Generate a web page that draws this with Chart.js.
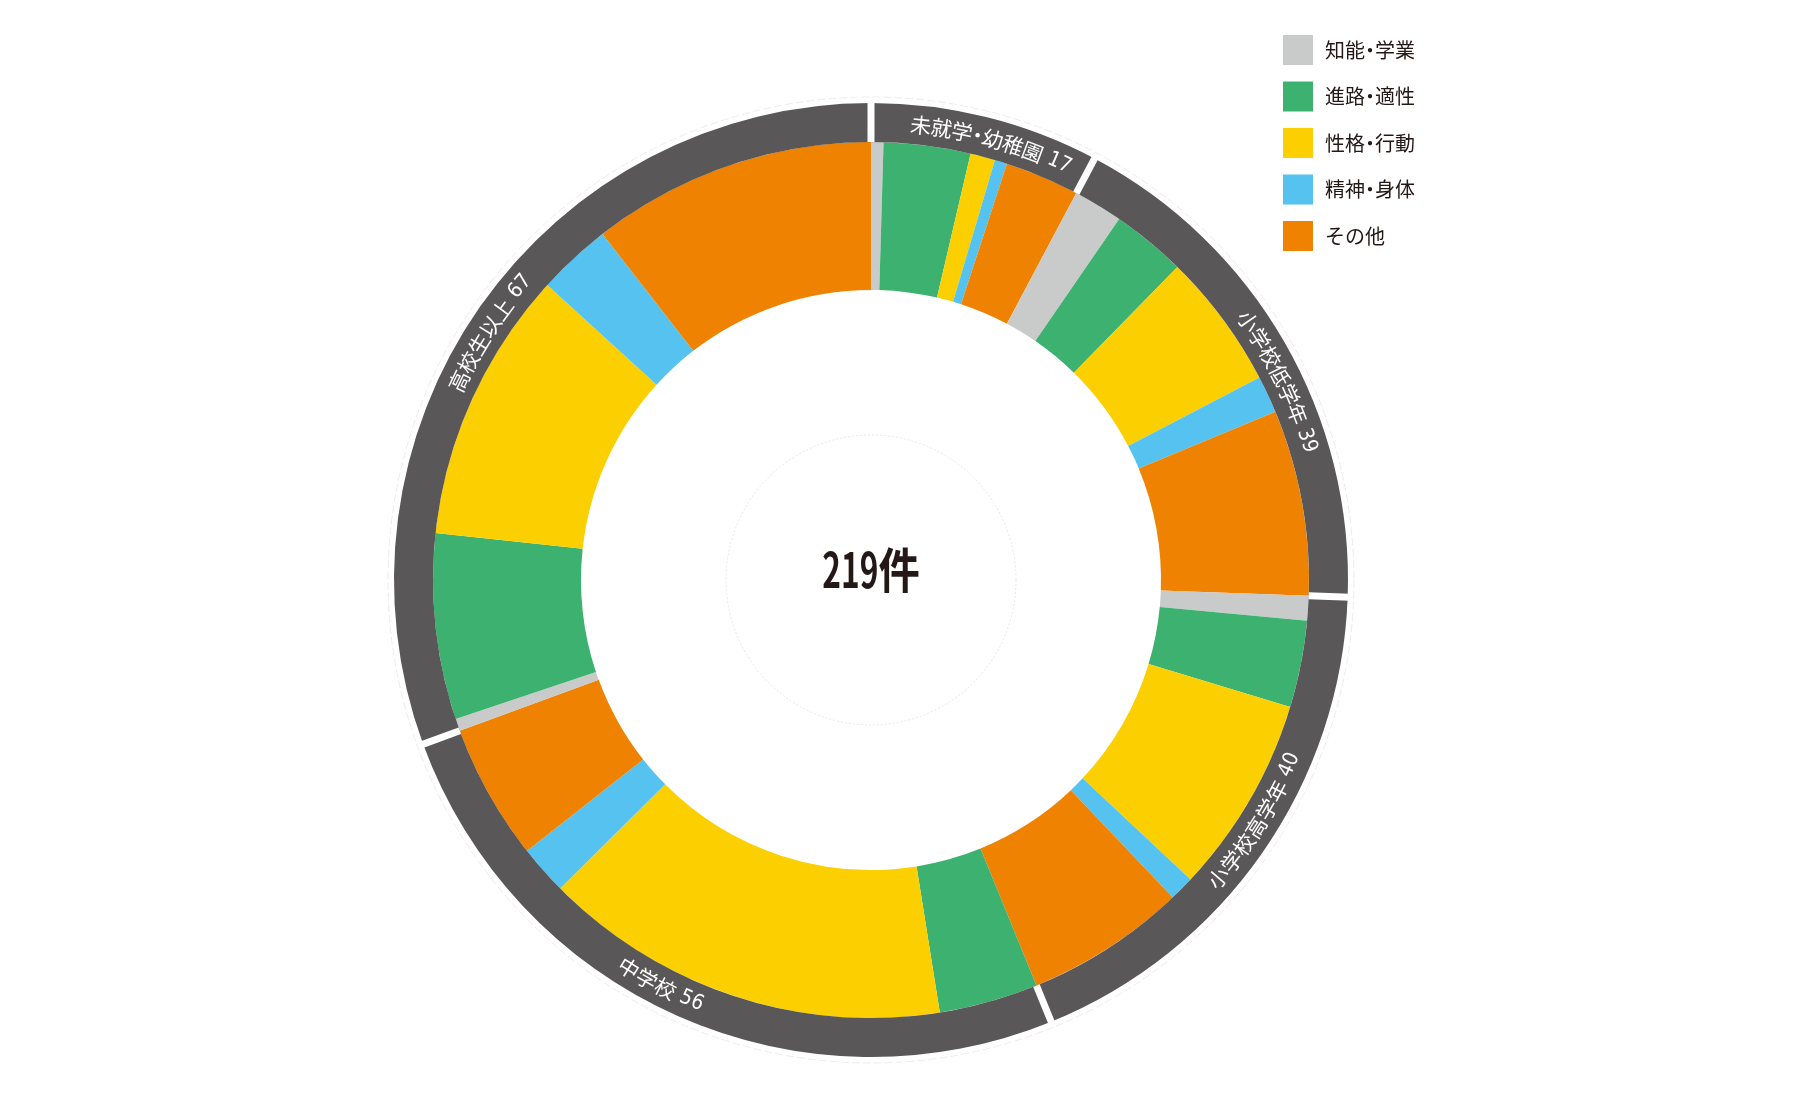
<!DOCTYPE html>
<html lang="ja">
<head>
<meta charset="utf-8">
<title>相談内容の内訳</title>
<script src="https://cdn.jsdelivr.net/npm/chart.js@4.4.0/dist/chart.umd.min.js"></script>
<style>
  html, body { margin: 0; padding: 0; background: #fff; }
  #wrap { width: 1800px; height: 1100px; }
</style>
</head>
<body>
<div id="wrap"><canvas id="consultChart" width="1800" height="1100"></canvas></div>
<script>
// outer ring: age groups
var groups = ['未就学・幼稚園', '小学校低学年', '小学校高学年', '中学校', '高校生以上'];

// inner ring / legend: kind of consultation
var categories = ['知能・学業', '進路・適性', '性格・行動', '精神・身体', 'その他'];

// counts for each category, one value per age group (same order as groups)
var chinouGakugyou = [1, 4, 2, 0, 1];
var shinroTekisei = [7, 6, 7, 8, 15];
var seikakuKoudou = [2, 11, 16, 33, 22];
var seishinShintai = [1, 3, 2, 4, 6];
var sonota = [6, 15, 13, 11, 23];

var unitLabel = '件';

var categoryColors = ['#c9caca', '#3cb170', '#fcd000', '#56c2f0', '#ef8200'];
var groupColor = '#595757';
// small nudge (degrees, clockwise) of each curved group label
var labelShift = [1.4, 4, -2.8, 3.6, -2];

document.addEventListener("DOMContentLoaded", function() {

var series = [chinouGakugyou, shinroTekisei, seikakuKoudou, seishinShintai, sonota];

// group totals (outer ring) and the flat inner ring data
var groupTotals = groups.map(function(g, gi) {
    return series.reduce(function(s, arr) { return s + arr[gi]; }, 0);
});
var innerData = [];
var innerColors = [];
groups.forEach(function(g, gi) {
    series.forEach(function(arr, ci) {
        innerData.push(arr[gi]);
        innerColors.push(categoryColors[ci]);
    });
});
var grandTotal = groupTotals.reduce(function(a, b) { return a + b; }, 0);

var JP_FONT = '"Noto Sans CJK JP", "Noto Sans", sans-serif';
var NUM_FONT = '"Liberation Sans Narrow", "DejaVu Sans Condensed", sans-serif';

// font and advance for one character (narrow digits, half-width middle dot)
function charFont(ch, size) {
    return /[0-9]/.test(ch) ? size + 'px ' + NUM_FONT : size + 'px ' + JP_FONT;
}
function charWidth(ctx, ch, size) {
    ctx.font = charFont(ch, size);
    var w = ctx.measureText(ch).width;
    if (ch === '・') w = w * 0.5;
    if (ch === ' ') w = size * 0.3;
    return w;
}

// write a string along a circle, centred on midAngle
function drawArcText(ctx, text, cx, cy, r, midAngle, size) {
    var flip = Math.sin(midAngle) > 0; // lower half reads the other way
    var chars = Array.from(text);
    var widths = chars.map(function(ch) { return charWidth(ctx, ch, size); });
    var total = widths.reduce(function(a, b) { return a + b; }, 0);
    var a = flip ? midAngle + total / (2 * r) : midAngle - total / (2 * r);
    chars.forEach(function(ch, i) {
        var w = widths[i];
        var ca = flip ? a - w / (2 * r) : a + w / (2 * r);
        ctx.save();
        ctx.font = charFont(ch, size);
        ctx.translate(cx + r * Math.cos(ca), cy + r * Math.sin(ca));
        ctx.rotate(flip ? ca - Math.PI / 2 : ca + Math.PI / 2);
        ctx.fillText(ch, 0, 0);
        ctx.restore();
        a = flip ? a - w / r : a + w / r;
    });
}

// straight text, char by char so the middle dot stays narrow
function drawPlainText(ctx, text, x, y, size) {
    Array.from(text).forEach(function(ch) {
        var w = charWidth(ctx, ch, size);
        ctx.font = charFont(ch, size);
        ctx.textAlign = 'center';
        ctx.fillText(ch, x + w / 2, y);
        x += w;
    });
}

var ringDecor = {
    id: 'ringDecor',
    beforeDatasetsDraw: function(chart) {
        var ctx = chart.ctx;
        var arc = chart.getDatasetMeta(0).data[0];
        var inner = chart.getDatasetMeta(1).data[0];
        if (!arc) return;
        var p = arc.getProps(['x', 'y', 'outerRadius']);
        var q = inner.getProps(['innerRadius']);
        ctx.save();
        // faint circle outside the ring
        ctx.strokeStyle = '#ececec';
        ctx.lineWidth = 1;
        ctx.setLineDash([8, 3]);
        ctx.beginPath();
        ctx.arc(p.x, p.y, p.outerRadius + 6, 0, Math.PI * 2);
        ctx.stroke();
        // faint dotted circle in the hole
        ctx.strokeStyle = '#e6e6e6';
        ctx.setLineDash([2, 2]);
        ctx.beginPath();
        ctx.arc(p.x, p.y, q.innerRadius * 0.5, 0, Math.PI * 2);
        ctx.stroke();
        ctx.restore();
    },
    afterDatasetsDraw: function(chart) {
        var ctx = chart.ctx;
        var meta = chart.getDatasetMeta(0);
        meta.data.forEach(function(arc, i) {
            var p = arc.getProps(['x', 'y', 'startAngle', 'endAngle', 'innerRadius', 'outerRadius']);
            // white gap at the start of each group
            ctx.save();
            ctx.strokeStyle = '#ffffff';
            ctx.lineWidth = 7;
            ctx.beginPath();
            ctx.moveTo(p.x + Math.cos(p.startAngle) * p.innerRadius, p.y + Math.sin(p.startAngle) * p.innerRadius);
            ctx.lineTo(p.x + Math.cos(p.startAngle) * (p.outerRadius + 2), p.y + Math.sin(p.startAngle) * (p.outerRadius + 2));
            ctx.stroke();
            ctx.restore();

            // curved label
            ctx.save();
            ctx.fillStyle = '#ffffff';
            ctx.textAlign = 'center';
            ctx.textBaseline = 'middle';
            var mid = (p.startAngle + p.endAngle) / 2 + labelShift[i] * Math.PI / 180;
            drawArcText(ctx, groups[i] + ' ' + groupTotals[i], p.x, p.y, (p.innerRadius + p.outerRadius) / 2, mid, 21);
            ctx.restore();
        });

        // total in the middle
        var c = meta.data[0].getProps(['x', 'y']);
        ctx.save();
        ctx.fillStyle = '#231815';
        ctx.font = 'bold 48px ' + JP_FONT;
        ctx.textBaseline = 'middle';
        var num = String(grandTotal);
        var numW = ctx.measureText(num).width * 0.66;
        var unitW = ctx.measureText(unitLabel).width * 0.86;
        var x0 = c.x - (numW + unitW) / 2;
        ctx.save();
        ctx.translate(x0, c.y - 10);
        ctx.scale(0.66, 1);
        ctx.fillText(num, 0, 0);
        ctx.restore();
        ctx.save();
        ctx.translate(x0 + numW, c.y - 10);
        ctx.scale(0.86, 1);
        ctx.fillText(unitLabel, 0, 0);
        ctx.restore();
        ctx.restore();
    },
    afterDraw: function(chart) {
        // legend, top right
        var ctx = chart.ctx;
        ctx.save();
        ctx.textBaseline = 'middle';
        categories.forEach(function(name, i) {
            var y = 35 + i * 46.5;
            ctx.fillStyle = categoryColors[i];
            ctx.fillRect(1283, y, 30, 30);
            ctx.fillStyle = '#231815';
            drawPlainText(ctx, name, 1325, y + 15, 20);
        });
        ctx.restore();
    }
};

var ctx = document.getElementById('consultChart').getContext('2d');

var consultChart = new Chart(ctx, {
    type: 'doughnut',
    data: {
        labels: groups,
        datasets: [{
            label: '学齢',
            data: groupTotals,
            backgroundColor: groupColor,
            borderWidth: 0,
            hoverOffset: 0,
            weight: 39
        }, {
            label: '相談内容',
            data: innerData,
            backgroundColor: innerColors,
            borderWidth: 0,
            hoverOffset: 0,
            weight: 148
        }]
    },
    options: {
        responsive: false,
        animation: false,
        cutout: '60.8%',
        layout: {
            padding: { top: 103, bottom: 43, left: 0, right: 58 }
        },
        plugins: {
            legend: { display: false },
            tooltip: { enabled: false }
        }
    },
    plugins: [ringDecor]
});

});
</script>
</body>
</html>
